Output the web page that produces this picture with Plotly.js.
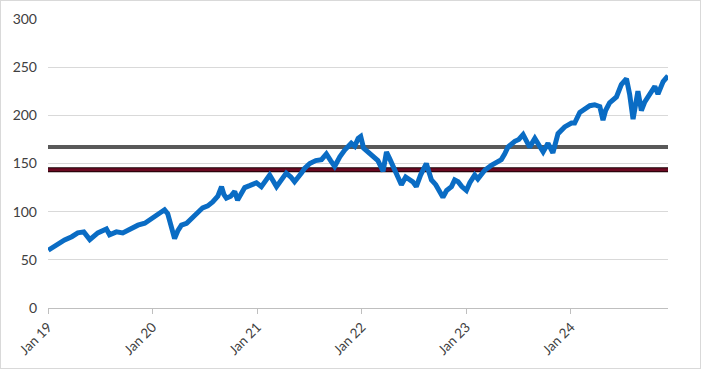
<!DOCTYPE html>
<html>
<head>
<meta charset="utf-8">
<script src="https://cdn.plot.ly/plotly-3.0.1.min.js"></script>
<style>
html,body{margin:0;padding:0;background:#fff;}
#chart{width:701px;height:369px;border:1px solid #D9D9D9;box-sizing:border-box;}
</style>
</head>
<body>
<div id="chart"></div>
<script>
const dates = ["2019-01-02","2019-01-28","2019-02-28","2019-03-25","2019-04-15","2019-05-06","2019-05-27","2019-06-24","2019-07-24","2019-08-04","2019-08-28","2019-09-19","2019-10-13","2019-11-11","2019-12-05","2019-12-29","2020-01-19","2020-02-12","2020-02-23","2020-03-04","2020-03-18","2020-03-29","2020-04-11","2020-04-29","2020-05-21","2020-06-07","2020-06-24","2020-07-12","2020-07-29","2020-08-16","2020-08-29","2020-09-06","2020-09-15","2020-09-30","2020-10-14","2020-10-24","2020-11-18","2020-12-05","2020-12-29","2021-01-15","2021-01-30","2021-02-13","2021-03-09","2021-03-24","2021-04-12","2021-04-28","2021-05-11","2021-06-04","2021-06-15","2021-07-03","2021-07-24","2021-08-13","2021-08-30","2021-09-14","2021-09-28","2021-10-16","2021-11-02","2021-11-25","2021-12-07","2021-12-19","2021-12-28","2022-01-07","2022-01-28","2022-02-11","2022-02-26","2022-03-16","2022-03-28","2022-04-08","2022-04-20","2022-05-03","2022-05-19","2022-06-03","2022-06-17","2022-06-28","2022-07-10","2022-07-25","2022-08-14","2022-09-01","2022-09-16","2022-09-30","2022-10-11","2022-10-24","2022-11-10","2022-11-21","2022-12-03","2022-12-16","2023-01-01","2023-01-13","2023-01-30","2023-02-10","2023-03-06","2023-03-29","2023-04-13","2023-05-03","2023-05-15","2023-05-26","2023-06-19","2023-07-03","2023-07-18","2023-07-31","2023-08-10","2023-08-28","2023-09-11","2023-09-26","2023-10-13","2023-10-30","2023-11-17","2023-12-10","2024-01-03","2024-01-14","2024-02-01","2024-02-18","2024-03-07","2024-03-24","2024-04-11","2024-04-22","2024-05-01","2024-05-15","2024-06-08","2024-06-25","2024-07-13","2024-07-24","2024-08-05","2024-08-22","2024-09-03","2024-09-15","2024-09-26","2024-10-09","2024-10-20","2024-10-31","2024-11-18","2024-12-05"];
const prices = [60,65,70.6,74,78,79,71,78,82,76,79,78,82,86,88,93,97,102,98,85,72,80,86,88,95,99,104,106,110,116,126,118,114,116,121,112,125,127,130,126,133,138,126,133,140,136,131,140,145,150,153,154,160,153,147,157,164,171,168,176,178,166,160,157,153,142,162,155,147,140,128,136,134,131,126,138,150,133,128,120,115,122,126,133,131,126,122,130,138,134,143,148,150,154,160,167,173,175,180,172,167,176,170,162,171,161,181,188,192,192,203,207,210,211,209,195,205,213,219,232,238,222,196,225,205,214,219,224,230,222,235,241];
const grayLevel = 167;
const redLevel = 143.5;
const tickDates = ["2019-01-01","2020-01-01","2021-01-01","2022-01-01","2023-01-01","2024-01-01"];
const tickLabels = ["Jan 19","Jan 20","Jan 21","Jan 22","Jan 23","Jan 24"];
const yTicks = [0,50,100,150,200,250,300];

const startDate = "2019-01-01";
const endDate = dates[dates.length-1];

const traces = [
  {x:[startDate,endDate], y:[grayLevel,grayLevel], mode:"lines", line:{color:"#595959",width:4}, hoverinfo:"skip", showlegend:false},
  {x:[startDate,endDate], y:[redLevel,redLevel], mode:"lines", line:{color:"#1a0005",width:5}, hoverinfo:"skip", showlegend:false},
  {x:[startDate,endDate], y:[redLevel,redLevel], mode:"lines", line:{color:"#6B0A22",width:3}, hoverinfo:"skip", showlegend:false},
  {x:dates, y:prices, mode:"lines", line:{color:"#0A6CC4",width:5}, showlegend:false}
];

const layout = {
  width:699, height:367,
  margin:{l:47,r:32,t:18,b:60},
  paper_bgcolor:"#fff", plot_bgcolor:"#fff",
  font:{family:"Lato, 'Liberation Sans', sans-serif", size:14, color:"#595959"},
  xaxis:{type:"date", range:[startDate,endDate], tickmode:"array", tickvals:tickDates, ticktext:tickLabels,
         tickangle:-45, ticks:"outside", ticklen:5, tickcolor:"#BFBFBF", showgrid:false,
         showline:true, linecolor:"#BFBFBF", linewidth:1, zeroline:false, tickfont:{size:13.5,color:"#404040"}},
  yaxis:{range:[0,300], tickmode:"array", tickvals:yTicks, showgrid:true, gridcolor:"#D9D9D9", gridwidth:1,
         zeroline:false, showline:false, ticks:"", ticklabelstandoff:10, tickfont:{size:14,color:"#404040"}, fixedrange:true},
  showlegend:false
};
Plotly.newPlot("chart", traces, layout, {displayModeBar:false, staticPlot:true});
</script>
</body>
</html>
